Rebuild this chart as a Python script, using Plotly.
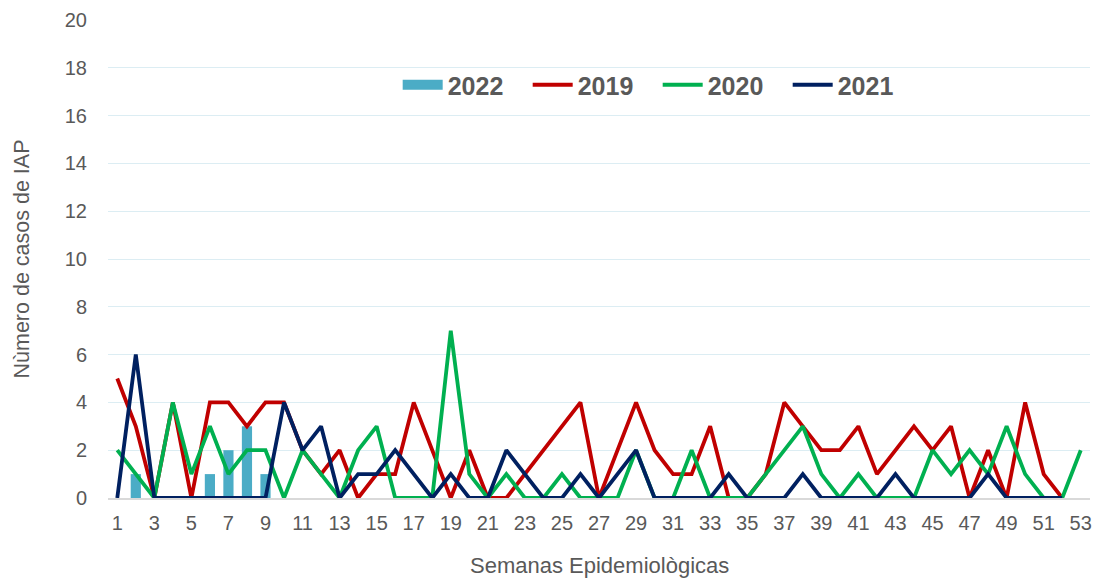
import plotly.graph_objects as go

weeks = list(range(1, 54))

# 2022 weekly counts (bars), weeks 1-9
weeks_2022 = [1, 2, 3, 4, 5, 6, 7, 8, 9]
cases_2022 = [0, 1, 0, 0, 0, 1, 2, 3, 1]

# 2019 weekly counts, weeks 1-52
cases_2019 = [5, 3, 0, 4, 0, 4, 4, 3, 4, 4,
              2, 1, 2, 0, 1, 1, 4, 2, 0, 2,
              0, 0, 1, 2, 3, 4, 0, 2, 4, 2,
              1, 1, 3, 0, 0, 1, 4, 3, 2, 2,
              3, 1, 2, 3, 2, 3, 0, 2, 0, 4,
              1, 0]

# 2020 weekly counts, weeks 1-53
cases_2020 = [2, 1, 0, 4, 1, 3, 1, 2, 2, 0,
              2, 1, 0, 2, 3, 0, 0, 0, 7, 1,
              0, 1, 0, 0, 1, 0, 0, 0, 2, 0,
              0, 2, 0, 0, 0, 1, 2, 3, 1, 0,
              1, 0, 0, 0, 2, 1, 2, 1, 3, 1,
              0, 0, 2]

# 2021 weekly counts, weeks 1-52
cases_2021 = [0, 6, 0, 0, 0, 0, 0, 0, 0, 4,
              2, 3, 0, 1, 1, 2, 1, 0, 1, 0,
              0, 2, 1, 0, 0, 1, 0, 1, 2, 0,
              0, 0, 0, 1, 0, 0, 0, 1, 0, 0,
              0, 0, 1, 0, 0, 0, 0, 1, 0, 0,
              0, 0]

x_ticks = list(range(1, 54, 2))
y_ticks = list(range(0, 21, 2))

text_gray = "#595959"
grid_blue = "#dcedf3"
bar_blue = "#4bacc6"
font_family = "Liberation Sans, Arial, sans-serif"
line_w = 3.8

fig = go.Figure()
# bars for 2022; the legend uses a wide swatch entry below
fig.add_trace(go.Bar(x=weeks_2022, y=cases_2022, name="2022", showlegend=False,
                     marker=dict(color=bar_blue, line=dict(width=0)),
                     width=0.55))
fig.add_trace(go.Scatter(x=[None], y=[None], name="2022", mode="lines",
                         line=dict(color=bar_blue, width=13)))
fig.add_trace(go.Scatter(x=weeks[:len(cases_2019)], y=cases_2019, name="2019",
                         mode="lines", line=dict(color="#c00000", width=line_w)))
fig.add_trace(go.Scatter(x=weeks[:len(cases_2020)], y=cases_2020, name="2020",
                         mode="lines", line=dict(color="#00b050", width=line_w)))
fig.add_trace(go.Scatter(x=weeks[:len(cases_2021)], y=cases_2021, name="2021",
                         mode="lines", line=dict(color="#002060", width=line_w)))

fig.update_layout(
    width=1096, height=579,
    margin=dict(l=108, r=6, t=20, b=81),
    paper_bgcolor="white", plot_bgcolor="white",
    font=dict(family=font_family, color=text_gray),
    showlegend=True,
    legend=dict(orientation="h", x=0.295, y=0.864, xanchor="left", yanchor="middle",
                font=dict(size=25, color=text_gray, family=font_family, weight="bold"),
                entrywidth=75, entrywidthmode="pixels",
                bgcolor="rgba(0,0,0,0)", itemwidth=40),
    xaxis=dict(range=[0.5, 53.5], tickmode="array", tickvals=x_ticks,
               ticktext=[str(t) for t in x_ticks], showgrid=False, zeroline=False,
               showline=True, linecolor="#d9d9d9", linewidth=1.5, ticks="",
               ticklabelstandoff=6, automargin=False,
               tickfont=dict(size=20, color=text_gray)),
    yaxis=dict(range=[0, 20], tickmode="array", tickvals=y_ticks,
               showgrid=True, gridcolor=grid_blue, gridwidth=1.2, zeroline=False,
               showline=False, ticks="", ticklabelstandoff=20, automargin=False,
               tickfont=dict(size=20, color=text_gray),
               title=dict(text="Nùmero de casos de IAP", font=dict(size=21.5, color=text_gray),
                          standoff=29)),
    bargap=0.45,
    annotations=[dict(text="Semanas Epidemiològicas", xref="paper", yref="paper",
                      x=0.5, y=-0.1405, xanchor="center", yanchor="middle",
                      showarrow=False, font=dict(size=22, color=text_gray))],
)

fig.write_html("out.html")
